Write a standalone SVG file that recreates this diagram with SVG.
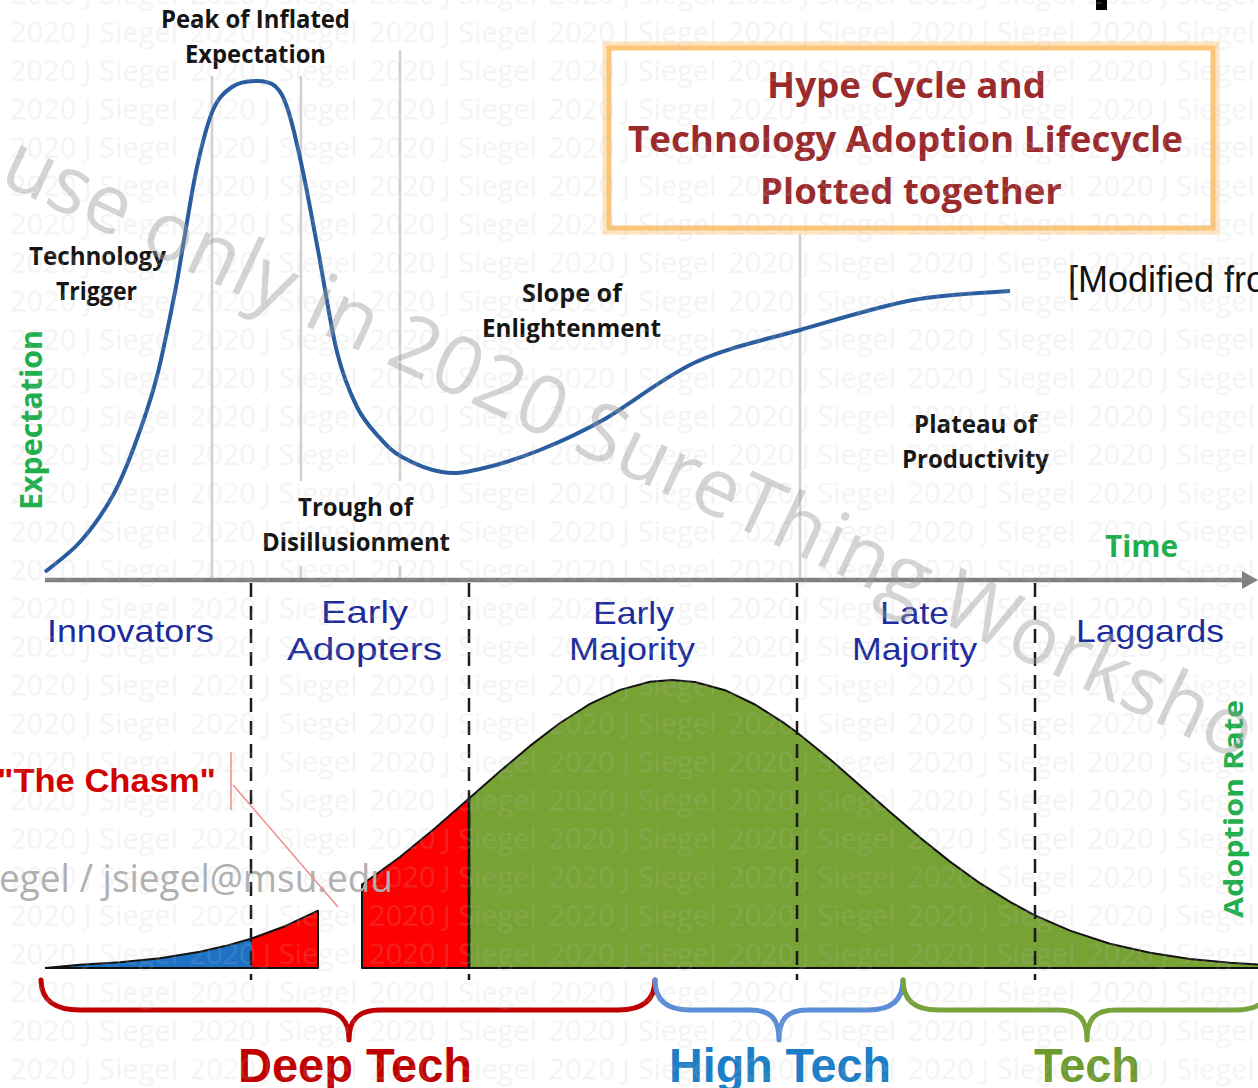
<svg xmlns="http://www.w3.org/2000/svg" width="1258" height="1088" viewBox="0 0 1258 1088">
<style>
.hl{font-family:"Open Sans","Liberation Sans",sans-serif;font-weight:700;font-size:25px;fill:#141414}
.tt{font-family:"Open Sans","Liberation Sans",sans-serif;font-weight:700;font-size:36px;fill:#9a2a2c}
.cat{font-family:"Liberation Sans",Arial,sans-serif;font-size:32px;fill:#1c2b9b}
.gr{font-family:"Open Sans","Liberation Sans",sans-serif;font-weight:700;fill:#1eae4b}
.wmt{font-family:"Open Sans","Liberation Sans",sans-serif;font-size:29px;fill:#bdbdbd}
.vline{stroke:#d0d0d0;stroke-width:2.5}
.dash{stroke:#1a1a1a;stroke-width:2.5;stroke-dasharray:14 9}
.big{font-family:"Liberation Sans",Arial,sans-serif;font-weight:700;font-size:48px}
.brace{fill:none;stroke-width:5;stroke-linecap:round;stroke-linejoin:round}
.lbg{fill:#ffffff}
</style>
<defs>
<marker id="arr" markerUnits="userSpaceOnUse" markerWidth="16" markerHeight="18" refX="2" refY="9" orient="auto"><path d="M0,0 L16,9 L0,18 Z" fill="#808080"/></marker>
<pattern id="wm" patternUnits="userSpaceOnUse" x="0" y="13" width="179.5" height="38.4"><text x="10" y="30" class="wmt">2020 J Siegel</text></pattern>
</defs>
<rect width="1258" height="1088" fill="#ffffff"/>
<rect x="1096" y="0" width="11" height="10" fill="#000000"/>

<g id="grid">
<line class="vline" x1="212" y1="50" x2="212" y2="580"/>
<line class="vline" x1="301" y1="50" x2="301" y2="580"/>
<line class="vline" x1="400" y1="50" x2="400" y2="580"/>
<line class="vline" x1="800" y1="50" x2="800" y2="580"/>
</g>

<g id="title-box">
<rect x="609" y="48" width="604" height="180" fill="#ffffff" stroke="#fee5c2" stroke-width="13"/>
<rect x="609" y="48" width="604" height="180" fill="#ffffff" stroke="#fcc678" stroke-width="5"/>
<text class="tt" x="767" y="98" textLength="279" lengthAdjust="spacingAndGlyphs">Hype Cycle and</text>
<text class="tt" x="628" y="152" textLength="555" lengthAdjust="spacingAndGlyphs">Technology Adoption Lifecycle</text>
<text class="tt" x="760" y="204" textLength="302" lengthAdjust="spacingAndGlyphs">Plotted together</text>
</g>

<g id="hype-curve">
<path d="M45,572 C50.8,567 68.8,554.5 80,542 C91.2,529.5 103,512.8 112,497 C121,481.2 126.7,466.5 134,447 C141.3,427.5 149.3,405 156,380 C162.7,355 169.3,320.3 174,297 C178.7,273.7 180.2,261.7 184,240 C187.8,218.3 192.2,188.7 197,167 C201.8,145.3 207.2,123.3 213,110 C218.8,96.7 225,91.8 232,87 C239,82.2 247.8,81.2 255,81 C262.2,80.8 269.5,81.2 275,86 C280.5,90.8 283.5,96.5 288,110 C292.5,123.5 297,143.7 302,167 C307,190.3 312.2,219.2 318,250 C323.8,280.8 330.5,325.8 337,352 C343.5,378.2 350,392.8 357,407 C364,421.2 371.5,428.7 379,437 C386.5,445.3 391.5,451.2 402,457 C412.5,462.8 429,470 442,472 C455,474 463.7,472.7 480,469 C496.3,465.3 519.5,458.2 540,450 C560.5,441.8 577,434.7 603,420 C629,405.3 663.2,377 696,362 C728.8,347 763.8,340.3 800,330 C836.2,319.7 878,306.5 913,300 C948,293.5 993.8,292.5 1010,291" fill="none" stroke="#2a5d9f" stroke-width="4"/>
</g>

<g id="axis">
<line x1="45" y1="580" x2="1244" y2="580" stroke="#808080" stroke-width="4.5" marker-end="url(#arr)"/>
</g>

<g id="hype-labels">
<rect class="lbg" x="150" y="0" width="210" height="76"/>
<text class="hl" x="161" y="28" textLength="189" lengthAdjust="spacingAndGlyphs">Peak of Inflated</text>
<text class="hl" x="185" y="63" textLength="141" lengthAdjust="spacingAndGlyphs">Expectation</text>
<text class="hl" x="29" y="265" textLength="137" lengthAdjust="spacingAndGlyphs">Technology</text>
<text class="hl" x="56" y="300" textLength="81" lengthAdjust="spacingAndGlyphs">Trigger</text>
<text class="hl" x="522" y="302" textLength="100" lengthAdjust="spacingAndGlyphs">Slope of</text>
<text class="hl" x="482" y="337" textLength="179" lengthAdjust="spacingAndGlyphs">Enlightenment</text>
<rect class="lbg" x="255" y="481" width="200" height="85"/>
<text class="hl" x="298" y="516" textLength="115" lengthAdjust="spacingAndGlyphs">Trough of</text>
<text class="hl" x="262" y="551" textLength="188" lengthAdjust="spacingAndGlyphs">Disillusionment</text>
<text class="hl" x="914" y="433" textLength="123" lengthAdjust="spacingAndGlyphs">Plateau of</text>
<text class="hl" x="902" y="468" textLength="147" lengthAdjust="spacingAndGlyphs">Productivity</text>
<text class="gr" x="1105" y="557" font-size="30" textLength="73" lengthAdjust="spacingAndGlyphs">Time</text>
<text class="gr" font-size="31" transform="translate(42,510) rotate(-90)" textLength="180" lengthAdjust="spacingAndGlyphs">Expectation</text>
<text x="1068" y="292" font-family="Liberation Sans, Arial, sans-serif" font-size="36" fill="#111111">[Modified fro</text>
</g>

<g id="adoption-areas">
<path d="M45,968 L80,964.8 L120,962.3 L160,958.2 L200,951.7 L225,946.1 L251,938.7 L251,968 Z" fill="#1e72c6"/>
<path d="M251,968 L251,938.7 L285,926.2 L318,910.7 L318,968 Z" fill="#ff0000"/>
<path d="M362,968 L362,884.5 L400,857 L435,828.3 L469,798.6 L469,968 Z" fill="#ff0000"/>
<path d="M469,968 L469,798.6 L500,771.3 L530,745.9 L560,723 L590,703.9 L620,689.9 L650,681.8 L672,680 L695,682 L725,690.2 L755,704.5 L785,723.7 L797,732.5 L830,759.2 L860,785.4 L890,811.9 L920,837.6 L950,861.6 L980,883.2 L1010,901.9 L1035,915.3 L1070,930.6 L1110,943.7 L1150,952.8 L1190,958.9 L1230,962.8 L1260,964.7 L1260,968 Z" fill="#77a234"/>
<path d="M45,968 L80,964.8 L120,962.3 L160,958.2 L200,951.7 L225,946.1 L251,938.7 L285,926.2 L318,910.7 L318,968 L45,968" fill="none" stroke="#111111" stroke-width="2" stroke-linejoin="round"/>
<path d="M1260,968 L362,968 L362,884.5 L400,857 L435,828.3 L469,798.6 L500,771.3 L530,745.9 L560,723 L590,703.9 L620,689.9 L650,681.8 L672,680 L695,682 L725,690.2 L755,704.5 L785,723.7 L797,732.5 L830,759.2 L860,785.4 L890,811.9 L920,837.6 L950,861.6 L980,883.2 L1010,901.9 L1035,915.3 L1070,930.6 L1110,943.7 L1150,952.8 L1190,958.9 L1230,962.8 L1260,964.7" fill="none" stroke="#111111" stroke-width="2" stroke-linejoin="round"/>
<line x1="469" y1="798" x2="469" y2="968" stroke="#111111" stroke-width="2.5"/>
</g>

<text id="email" x="-1" y="892" font-family="Open Sans, Liberation Sans, sans-serif" font-size="38" fill="#b0b0b0" textLength="394" lengthAdjust="spacingAndGlyphs">egel / jsiegel@msu.edu</text>

<g id="connectors">
<line class="dash" x1="251" y1="583" x2="251" y2="980"/>
<line class="dash" x1="469" y1="583" x2="469" y2="980"/>
<line class="dash" x1="797" y1="583" x2="797" y2="980"/>
<line class="dash" x1="1035" y1="583" x2="1035" y2="980"/>
<line x1="231" y1="752" x2="231" y2="810" stroke="#f08a8a" stroke-width="1.5"/>
<line x1="233" y1="785" x2="338" y2="907" stroke="#f08a8a" stroke-width="1.5"/>
</g>

<g id="categories">
<text class="cat" x="47" y="642" textLength="167" lengthAdjust="spacingAndGlyphs">Innovators</text>
<text class="cat" x="321" y="623" textLength="87" lengthAdjust="spacingAndGlyphs">Early</text>
<text class="cat" x="287" y="660" textLength="155" lengthAdjust="spacingAndGlyphs">Adopters</text>
<text class="cat" x="593" y="624" textLength="81" lengthAdjust="spacingAndGlyphs">Early</text>
<text class="cat" x="569" y="660" textLength="126" lengthAdjust="spacingAndGlyphs">Majority</text>
<text class="cat" x="880" y="624" textLength="69" lengthAdjust="spacingAndGlyphs">Late</text>
<text class="cat" x="852" y="660" textLength="125" lengthAdjust="spacingAndGlyphs">Majority</text>
<text class="cat" x="1076" y="642" textLength="148" lengthAdjust="spacingAndGlyphs">Laggards</text>
<text class="gr" font-size="27" transform="translate(1243,918) rotate(-90)" textLength="218" lengthAdjust="spacingAndGlyphs">Adoption Rate</text>
<text x="-3" y="792" font-family="Liberation Sans, Arial, sans-serif" font-weight="700" font-size="33" fill="#d40000" textLength="219" lengthAdjust="spacingAndGlyphs">"The Chasm"</text>
</g>

<g id="braces">
<path class="brace" stroke="#c00000" d="M41,980 C41,1000 55,1010 80,1010 H318 C340,1010 349,1020 349,1040 C349,1020 358,1010 380,1010 H618 C643,1010 655,1000 655,980"/>
<path class="brace" stroke="#5b8ed6" d="M655,980 C655,1000 667,1010 690,1010 H750 C772,1010 779,1020 779,1040 C779,1020 786,1010 808,1010 H868 C891,1010 903,1000 903,980"/>
<path class="brace" stroke="#78a23a" d="M903,980 C903,1000 915,1010 938,1010 H1058 C1080,1010 1087,1020 1087,1040 C1087,1020 1094,1010 1116,1010 H1236 C1259,1010 1271,1000 1271,980"/>
<text class="big" x="238" y="1082" fill="#c00000" textLength="234" lengthAdjust="spacingAndGlyphs">Deep Tech</text>
<text class="big" x="669" y="1082" fill="#1c7ec6" font-size="46" textLength="222" lengthAdjust="spacingAndGlyphs">High Tech</text>
<text class="big" x="1034" y="1082" fill="#6e9b30" font-size="46" textLength="106" lengthAdjust="spacingAndGlyphs">Tech</text>
</g>

<g id="watermarks">
<rect width="1258" height="1088" fill="url(#wm)" opacity="0.18"/>
<text transform="translate(-3,182) rotate(25)" font-family="Open Sans, Liberation Sans, sans-serif" font-size="81" fill="#9a9a9a" opacity="0.42">use only in 2020 SureThing Worksho</text>
</g>
</svg>
